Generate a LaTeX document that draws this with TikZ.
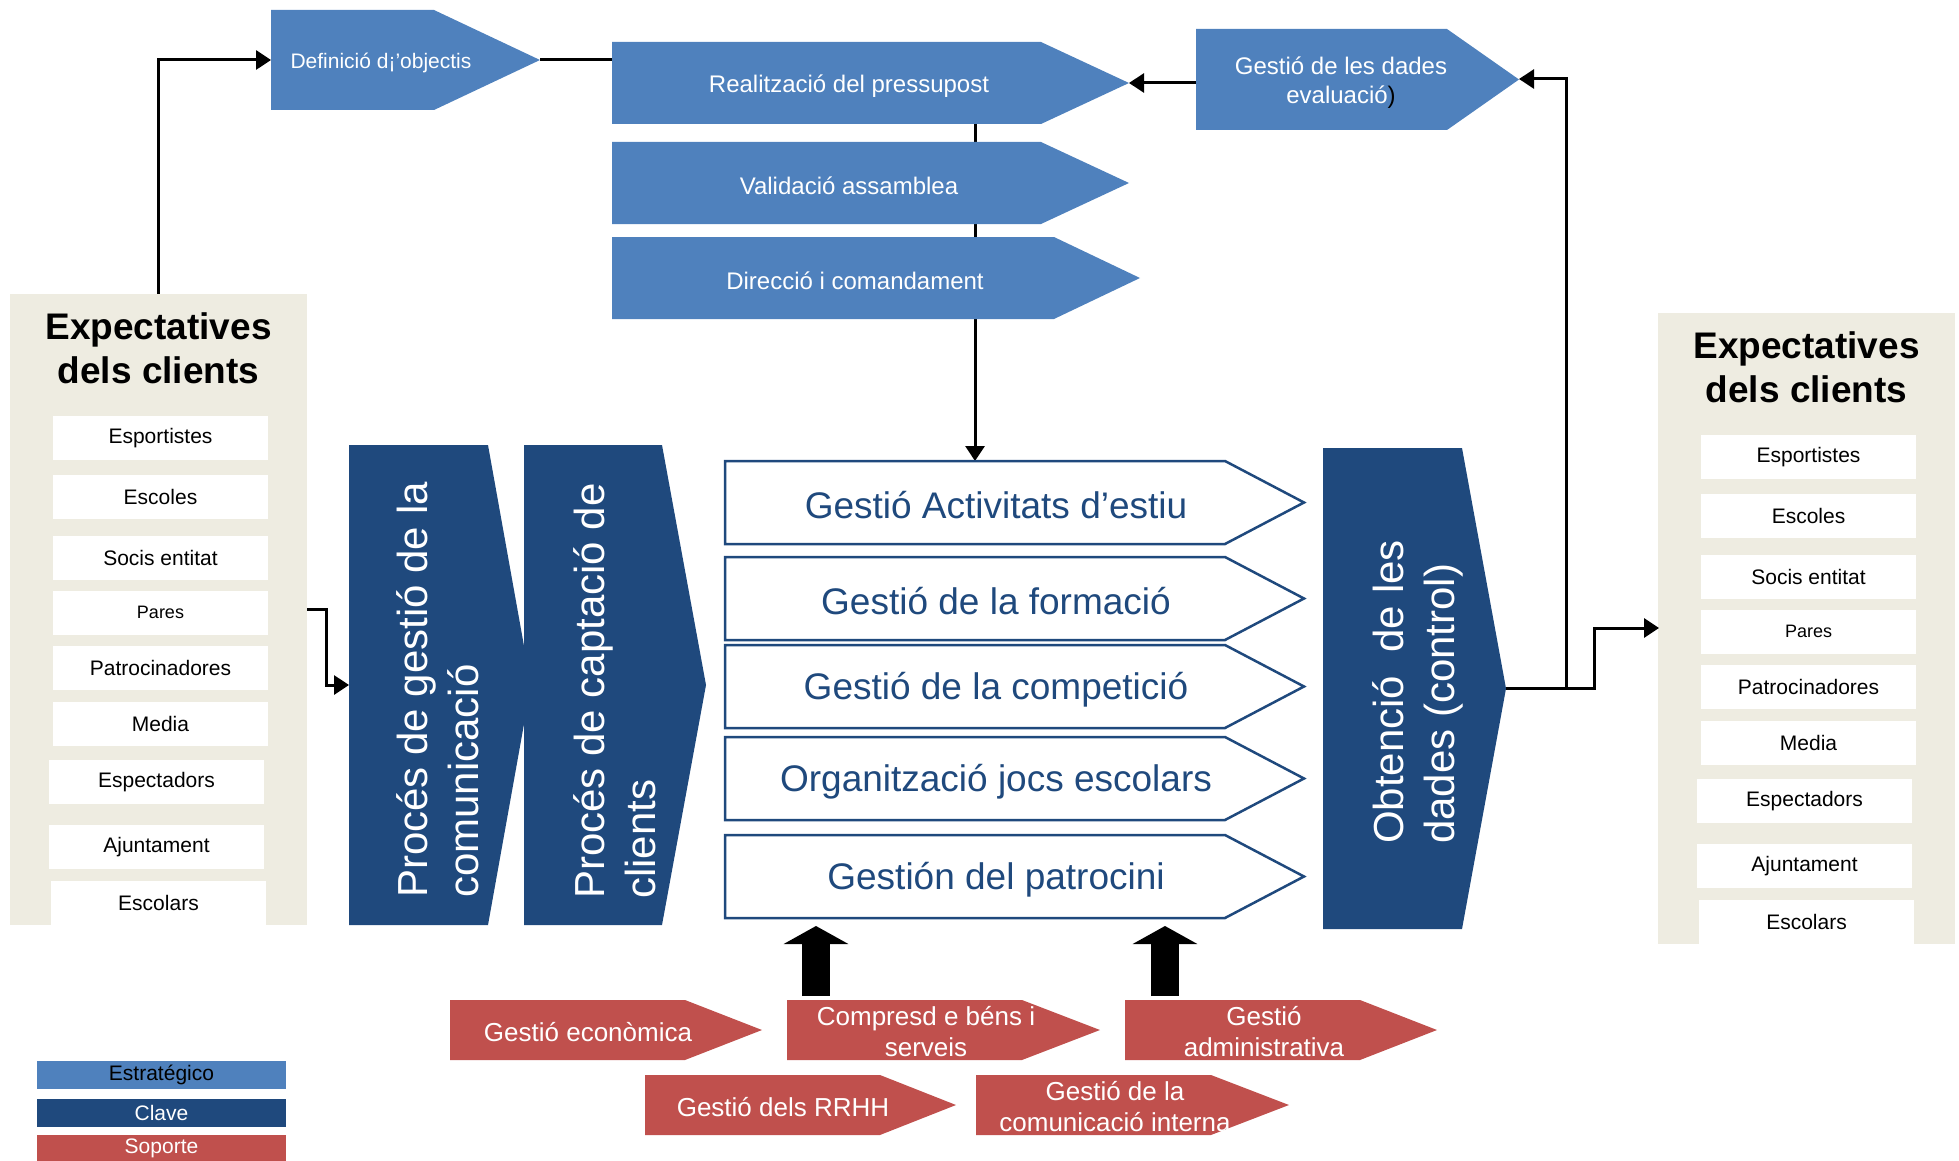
\documentclass[tikz,border=0pt]{standalone}
\usepackage{fontspec}
\setmainfont{Liberation Sans}
\usetikzlibrary{arrows.meta}

\definecolor{stratblue}{HTML}{4F81BD}
\definecolor{claublue}{HTML}{1F497D}
\definecolor{suportred}{HTML}{C0504D}
\definecolor{beige}{HTML}{EEECE1}

% pentagon arrow: left, body end, tip, top, bottom
\def\chevron#1#2#3#4#5{(#1,#4) -- (#2,#4) -- (#3,{(#4+#5)/2}) -- (#2,#5) -- (#1,#5) -- cycle}
\newcommand\petit{\fontsize{18}{21}\selectfont}

\tikzset{
  conn/.style={line width=3pt, -{Triangle[length=15pt,width=19pt]}},
  plain/.style={line width=3pt},
  strat/.style={fill=stratblue},
  clau/.style={fill=claublue},
  suport/.style={fill=suportred},
  clauvora/.style={draw=claublue, fill=white, line width=2.5pt},
  toptxt/.style={text=white, align=center, yshift=-3pt, font=\fontsize{24}{29}\selectfont},
  keytxt/.style={text=claublue, yshift=-3pt, font=\fontsize{37}{44}\selectfont},
  vtxt/.style={text=white, rotate=90, align=left, inner sep=0pt, font=\fontsize{42}{51}\selectfont},
  suptxt/.style={text=white, align=center, yshift=-2pt, font=\fontsize{26}{31}\selectfont},
  caixa/.style={fill=beige, minimum width=297pt, minimum height=631pt, inner sep=0pt},
  titol/.style={align=center, font=\bfseries\fontsize{37}{44}\selectfont},
  item/.style={fill=white, minimum width=215pt, minimum height=44pt, inner sep=0pt, font=\fontsize{21}{25}\selectfont},
  llegenda/.style={minimum width=249pt, minimum height=28pt, inner sep=0pt, font=\fontsize{21}{25}\selectfont},
  fletxa/.style={line width=28pt, -{Triangle[length=18pt,width=64pt]}}
}

\begin{document}
\begin{tikzpicture}[x=1pt, y=-1pt]
  \useasboundingbox (0,0) rectangle (1959,1161);

  % clients, left and right
  \foreach \s/\dx/\dy in {L/0/0, R/1648/19}{
    \node[caixa] (exp\s) at (158.5+\dx, 609.5+\dy) {};
    \node[titol] (tit\s) at (158.5+\dx, 348+\dy) {Expectatives\\dels clients};
    \foreach \nom/\yc/\ex [count=\i] in {Esportistes/438/0, Escoles/497/0,
        Socis entitat/557.5/0, {\petit Pares}/612.5/0, Patrocinadores/668/0,
        Media/723.5/0, Espectadors/782/-4, Ajuntament/847/-4, Escolars/902.5/-2}
      \node[item] (\s\i) at (160.5+\dx+\ex, \yc+\dy) {\nom};
  }

  % strategic
  \coordinate (obj-w) at (271,60);
  \coordinate (obj-tip) at (540,60);
  \coordinate (pres-w) at (612,60);
  \coordinate (pres-s) at (975,124);
  \coordinate (pres-tip) at (1129,83);
  \coordinate (dades-w) at (1196,83);
  \coordinate (dades-tip) at (1519,79);
  \coordinate (act1-n) at (975,461);
  \draw[plain] (obj-tip) -- (pres-w);
  \draw[conn] (pres-s) -- (act1-n);

  \fill[strat] \chevron{271}{434}{540}{10}{110};
  \node[toptxt, font=\fontsize{21}{25}\selectfont] (obj) at (381,60) {Definició d¡’objectis};
  \fill[strat] \chevron{612}{1041}{1129}{42}{124};
  \node[toptxt] (pres) at (849,83) {Realització del pressupost};
  \fill[strat] \chevron{612}{1041}{1129}{142}{224};
  \node[toptxt] (valid) at (849,183) {Validació assamblea};
  \fill[strat] \chevron{612}{1054}{1140}{237}{319};
  \node[toptxt] (dir) at (855,278) {Direcció i comandament};
  \fill[strat] \chevron{1196}{1447}{1519}{29}{130};
  \node[toptxt] (dades) at (1341,80) {Gestió de les dades\\evaluació{\color{black})}};

  % key
  \fill[clau] \chevron{349}{488}{531}{445}{925};
  \node[vtxt] (gest) at (438,690) {Procés de gestió de la\\comunicació};
  \fill[clau] \chevron{524}{662}{706}{445}{925};
  \node[vtxt] (capt) at (615,691) {Procés de captació de\\clients};
  \fill[clau] \chevron{1323}{1462}{1506}{448}{929};
  \node[vtxt] (obt) at (1418,692) {Obtenció\ \ de les\\dades (control)};

  \foreach \nom/\yt/\yb [count=\i] in {Gestió Activitats d’estiu/461/544,
      Gestió de la formació/557/640, Gestió de la competició/645/728,
      Organització jocs escolars/737/820, Gestión del patrocini/835/918}{
    \draw[clauvora] \chevron{725}{1225}{1304}{\yt}{\yb};
    \node[keytxt] (act\i) at (996,{(\yt+\yb)/2}) {\nom};
  }

  % support
  \foreach \n/\nom/\xa/\xb/\xc/\yt/\yb/\xt in {
      eco/Gestió econòmica/450/685/762/1000/1060/588,
      compra/Compresd e béns i\\serveis/787/1022/1100/1000/1060/926,
      admin/Gestió\\administrativa/1125/1360/1437/1000/1060/1264,
      rrhh/Gestió dels RRHH/645/880/956/1075/1135/783,
      comint/Gestió de la\\comunicació interna/976/1211/1289/1075/1135/1115}{
    \fill[suport] \chevron{\xa}{\xb}{\xc}{\yt}{\yb};
    \node[suptxt] (\n) at (\xt,{(\yt+\yb)/2}) {\nom};
  }

  % connectors
  \coordinate (expL-out) at (307,609);
  \coordinate (gest-w) at (349,685);
  \coordinate (obt-tip) at (1506,688);
  \coordinate (split) at (1566,688);
  \coordinate (expR-in) at (1659,628);
  \draw[conn] (expL.north) |- (obj-w);
  \draw[conn] (dades-w) -- (pres-tip);
  \draw[conn] (expL-out) -- ++(19,0) |- (gest-w);
  \draw[conn] (obt-tip) -- (split) |- (dades-tip);
  \draw[conn] (split) -- ++(28,0) |- (expR-in);

  \coordinate (compra-n) at (816,996);
  \coordinate (act5-s1) at (816,926);
  \coordinate (admin-n) at (1165,996);
  \coordinate (act5-s2) at (1165,926);
  \draw[fletxa] (compra-n) -- (act5-s1);
  \draw[fletxa] (admin-n) -- (act5-s2);

  % legend
  \node[llegenda, fill=stratblue, yshift=-2pt] (lstrat) at (161.5,1073) {Estratégico};
  \node[llegenda, fill=claublue, text=white] (lclau) at (161.5,1112.5) {Clave};
  \node[llegenda, fill=suportred, text=white] (lsup) at (161.5,1148.5) {Soporte};
\end{tikzpicture}
\end{document}
